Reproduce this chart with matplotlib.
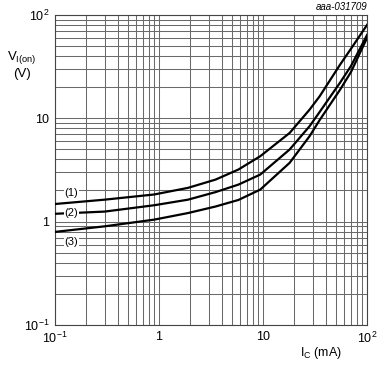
import numpy as np
import matplotlib.pyplot as plt
from matplotlib.ticker import LogLocator, NullFormatter

plt.rcParams['font.family'] = ['Liberation Sans', 'DejaVu Sans']
plt.rcParams['mathtext.fontset'] = 'custom'
plt.rcParams['mathtext.rm'] = 'Liberation Sans'
plt.rcParams['mathtext.it'] = 'Liberation Sans:italic'

# collector current (mA)
ic = [0.1, 0.3, 0.9, 1.9, 3.5, 5.8, 9.4, 18, 28, 35, 55, 70, 100]
# input on-voltage (V) for the three curves
v1 = [1.48, 1.63, 1.83, 2.12, 2.55, 3.19, 4.29, 7.2, 12.1, 16.3, 33, 47, 80]
v2 = [1.19, 1.25, 1.44, 1.63, 1.93, 2.28, 2.85, 4.98, 8.37, 11.5, 22.1, 32, 64]
v3 = [0.795, 0.90, 1.045, 1.21, 1.40, 1.62, 2.04, 3.7, 6.7, 9.6, 18.9, 28, 60]
curve_labels = ['(1)', '(2)', '(3)']
label_y = [1.91, 1.2, 0.64]

fig = plt.figure(figsize=(3.84, 3.71), dpi=100)
ax = fig.add_axes([0.143, 0.124, 0.813, 0.836])
ax.set_xscale('log')
ax.set_yscale('log')
ax.set_xlim(0.1, 100)
ax.set_ylim(0.1, 100)

ax.xaxis.set_minor_locator(LogLocator(base=10, subs=np.arange(2, 10)))
ax.yaxis.set_minor_locator(LogLocator(base=10, subs=np.arange(2, 10)))
ax.xaxis.set_minor_formatter(NullFormatter())
ax.yaxis.set_minor_formatter(NullFormatter())
ax.grid(True, which='both', color='#6a6a6a', linewidth=0.75)
ax.set_axisbelow(True)

for v in (v1, v2, v3):
    ax.plot(ic, v, color='black', linewidth=1.6, zorder=3,
            solid_joinstyle='round')

for lab, y in zip(curve_labels, label_y):
    ax.text(0.143, y, lab, fontsize=8, ha='center', va='center', zorder=4,
            bbox=dict(facecolor='white', edgecolor='none', pad=0.5))

ax.set_xticks([0.1, 1, 10, 100])
ax.set_xticklabels([r'10$^{-1}$', '1', '10', r'10$^{2}$'])
ax.set_yticks([0.1, 1, 10, 100])
ax.set_yticklabels([r'10$^{-1}$', '1', '10', r'10$^{2}$'])
ax.tick_params(which='both', length=0, labelsize=9, pad=4)
for s in ax.spines.values():
    s.set_color('#444444')
    s.set_linewidth(0.8)

fig.text(0.058, 0.845, r'V$_{\mathrm{I(on)}}$', fontsize=9.5, ha='center', va='center')
fig.text(0.058, 0.80, '(V)', fontsize=9.5, ha='center', va='center')
fig.text(0.835, 0.048, r'I$_{\mathrm{C}}$ (mA)', fontsize=9, ha='center', va='center')
fig.text(0.956, 0.982, 'aaa-031709', fontsize=7, ha='right', va='center', style='italic')

fig.savefig('out.png', dpi=100)
